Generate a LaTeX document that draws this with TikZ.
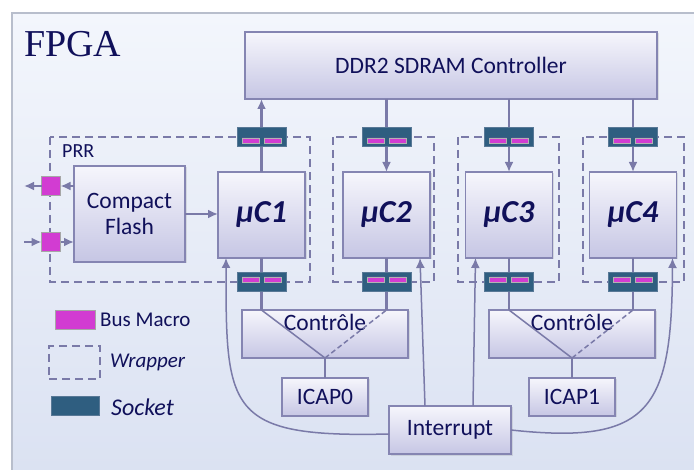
\documentclass[tikz,border=0pt]{standalone}
\usepackage{fontspec}
\setmainfont{Carlito}
\newfontfamily\serifface{Liberation Serif}
\usetikzlibrary{arrows.meta,shadows}

\definecolor{navy}{HTML}{10105A}
\definecolor{bgtop}{HTML}{F3F6FC}
\definecolor{bgbot}{HTML}{DBE2F2}
\definecolor{framec}{HTML}{B8BECC}
\definecolor{boxtop}{HTML}{F6F6FC}
\definecolor{boxbot}{HTML}{C6C6E4}
\definecolor{boxline}{HTML}{8585B2}
\definecolor{wirec}{HTML}{7A7AA8}
\definecolor{sockfill}{HTML}{2F5E80}
\definecolor{sockline}{HTML}{587896}
\definecolor{busmag}{HTML}{D23CD2}

\begin{document}
\begin{tikzpicture}[x=1pt, y=-1pt, >={Latex[length=10pt,width=9pt]},
    block/.style={draw=boxline, line width=1.3pt, top color=boxtop, bottom color=boxbot,
        drop shadow={opacity=0.2, shadow xshift=1.5pt, shadow yshift=-1.5pt},
        inner sep=0pt, outer sep=0pt, text=navy, font=\fontsize{23.5}{26}\selectfont, align=center},
    uc/.style={block, font=\fontsize{32}{34}\selectfont\bfseries\itshape, minimum width=87pt, minimum height=86pt},
    wrapper/.style={draw=wirec, line width=1.6pt, dash pattern=on 8pt off 5pt},
    wire/.style={draw=wirec, line width=2.4pt},
    thinwire/.style={draw=wirec, line width=1.5pt},
    socket/.style={draw=sockline, line width=1pt, fill=sockfill, minimum width=49pt, minimum height=19pt,
        inner sep=0pt, outer sep=0pt},
    busbar/.style={fill=busmag, draw=gray!60, line width=0.4pt},
    bmacro/.style={fill=busmag, draw=gray!70, line width=0.8pt, minimum size=19pt, inner sep=0pt, outer sep=0pt},
    lbl/.style={text=navy, inner sep=0pt}
]
    \useasboundingbox (0,0) rectangle (694,470);

    % FPGA background
    \fill[top color=bgtop, bottom color=bgbot] (12,13) rectangle (694,470);
    \draw[framec, line width=1.2pt] (12,470) -- (12,13) -- (694,13);
    \node[lbl, anchor=base west, font=\serifface\fontsize{38}{40}\selectfont] (fpga) at (24,57) {FPGA};

    % Wrappers
    \draw[wrapper] (50,137) rectangle (310,282);
    \node[lbl, anchor=base west, font=\fontsize{20}{22}\selectfont] (prr) at (62,158) {PRR};
    \draw[wrapper] (333,137) rectangle (434,282);
    \draw[wrapper] (458,137) rectangle (559,282);
    \draw[wrapper] (583,137) rectangle (684,282);

    % Blocks
    \node[block, minimum width=412pt, minimum height=67pt] (ddr) at (451,65.5) {DDR2 SDRAM Controller};
    \node[uc] (mc1) at (261.5,215) {µC1};
    \node[uc] (mc2) at (386.5,215) {µC2};
    \node[uc] (mc3) at (509,215) {µC3};
    \node[uc] (mc4) at (633,215) {µC4};
    \node[block, minimum width=111pt, minimum height=96pt] (cf) at (129.5,214) {Compact\\Flash};
    \node[block, minimum width=166pt, minimum height=48pt] (ctrl1) at (325,334) {};
    \node[block, minimum width=166pt, minimum height=48pt] (ctrl2) at (572,334) {};
    \node[lbl, anchor=base, font=\fontsize{23.5}{26}\selectfont] (ctrl1t) at ([yshift=-21pt]ctrl1.north) {Contrôle};
    \node[lbl, anchor=base, font=\fontsize{23.5}{26}\selectfont] (ctrl2t) at ([yshift=-21pt]ctrl2.north) {Contrôle};
    \node[block, minimum width=86pt, minimum height=38pt] (icap0) at (325,397) {ICAP0};
    \node[block, minimum width=86pt, minimum height=38pt] (icap1) at (572,397) {ICAP1};
    \node[block, minimum width=122pt, minimum height=48pt] (intr) at (450,430) {Interrupt};

    % Memory ports
    \draw[wire, ->] (mc1.north) -- (mc1.north |- ddr.south);
    \draw[wire, ->] (mc2.north |- ddr.south) -- (mc2.north);
    \draw[wire, ->] (mc3.north |- ddr.south) -- (mc3.north);
    \draw[wire, ->] (mc4.north |- ddr.south) -- (mc4.north);

    % Control links
    \draw[wire] (mc1.south) -- (mc1.south |- ctrl1.north);
    \draw[wire] (mc2.south) -- (mc2.south |- ctrl1.north);
    \draw[wire] (mc3.south) -- (mc3.south |- ctrl2.north);
    \draw[wire] (mc4.south) -- (mc4.south |- ctrl2.north);
    \draw[thinwire] (mc1.south |- ctrl1.north) -- (ctrl1.south);
    \draw[thinwire, dash pattern=on 5pt off 3pt] (ctrl1.south) -- (mc2.south |- ctrl1.north);
    \draw[thinwire] (mc3.south |- ctrl2.north) -- (ctrl2.south);
    \draw[thinwire, dash pattern=on 5pt off 3pt] (ctrl2.south) -- (mc4.south |- ctrl2.north);
    \draw[wire] (ctrl1.south) -- (icap0.north);
    \draw[wire] (ctrl2.south) -- (icap1.north);

    % Flash link
    \draw[wire, ->] (cf.east) -- (cf.east -| mc1.west);

    % Interrupt lines
    \draw[thinwire, ->] ([xshift=-25pt]intr.north) -- ([xshift=-10pt]mc2.south east);
    \draw[thinwire, ->] ([xshift=23pt]intr.north) -- ([xshift=10pt]mc3.south west);
    \draw[thinwire, ->] ([yshift=-4pt]intr.west) .. controls (226,438) and (226,410) .. ([xshift=8pt]mc1.south west);
    \draw[thinwire, ->] (intr.east) .. controls (650,445) and (672,410) .. ([xshift=-4pt]mc4.south east);

    % Sockets (top)
    \node[socket] (st1) at (261.5,137.5) {};
    \path[busbar] ([shift={(-19.5,0.5)}]st1.center) rectangle ([shift={(-2.5,5.5)}]st1.center)
                  ([shift={(2.5,0.5)}]st1.center) rectangle ([shift={(19.5,5.5)}]st1.center);
    \node[socket] (st2) at (386.5,137.5) {};
    \path[busbar] ([shift={(-19.5,0.5)}]st2.center) rectangle ([shift={(-2.5,5.5)}]st2.center)
                  ([shift={(2.5,0.5)}]st2.center) rectangle ([shift={(19.5,5.5)}]st2.center);
    \node[socket] (st3) at (509,137.5) {};
    \path[busbar] ([shift={(-19.5,0.5)}]st3.center) rectangle ([shift={(-2.5,5.5)}]st3.center)
                  ([shift={(2.5,0.5)}]st3.center) rectangle ([shift={(19.5,5.5)}]st3.center);
    \node[socket] (st4) at (633,137.5) {};
    \path[busbar] ([shift={(-19.5,0.5)}]st4.center) rectangle ([shift={(-2.5,5.5)}]st4.center)
                  ([shift={(2.5,0.5)}]st4.center) rectangle ([shift={(19.5,5.5)}]st4.center);

    % Sockets (bottom)
    \node[socket] (sb1) at (261.5,282) {};
    \path[busbar] ([shift={(-19.5,-5)}]sb1.center) rectangle ([shift={(-2.5,0)}]sb1.center)
                  ([shift={(2.5,-5)}]sb1.center) rectangle ([shift={(19.5,0)}]sb1.center);
    \node[socket] (sb2) at (386.5,282) {};
    \path[busbar] ([shift={(-19.5,-5)}]sb2.center) rectangle ([shift={(-2.5,0)}]sb2.center)
                  ([shift={(2.5,-5)}]sb2.center) rectangle ([shift={(19.5,0)}]sb2.center);
    \node[socket] (sb3) at (509,282) {};
    \path[busbar] ([shift={(-19.5,-5)}]sb3.center) rectangle ([shift={(-2.5,0)}]sb3.center)
                  ([shift={(2.5,-5)}]sb3.center) rectangle ([shift={(19.5,0)}]sb3.center);
    \node[socket] (sb4) at (633,282) {};
    \path[busbar] ([shift={(-19.5,-5)}]sb4.center) rectangle ([shift={(-2.5,0)}]sb4.center)
                  ([shift={(2.5,-5)}]sb4.center) rectangle ([shift={(19.5,0)}]sb4.center);

    % PRR bus macros
    \node[bmacro] (bm1) at (51,186) {};
    \node[bmacro] (bm2) at (51,242) {};
    \coordinate (out1) at (24,186);
    \coordinate (in2) at (24,242);
    \draw[wire, ->] (bm1.west) -- (out1);
    \draw[wire, ->] (cf.west |- bm1) -- (bm1.east);
    \draw[wire, ->] (in2) -- (bm2.west);
    \draw[wire, ->] (bm2.east) -- (cf.west |- bm2);

    % Legend
    \node[bmacro, minimum width=40pt, minimum height=19pt] (lgbus) at (75,319.5) {};
    \node[lbl, anchor=west, font=\fontsize{21}{24}\selectfont] (lgbustxt) at (100,320) {Bus Macro};
    \node[wrapper, minimum width=51pt, minimum height=33pt, inner sep=0pt] (lgwrap) at (74.5,362.5) {};
    \node[lbl, anchor=west, font=\fontsize{21}{24}\selectfont\itshape] (lgwraptxt) at (110,362) {Wrapper};
    \node[socket, minimum width=48pt] (lgsock) at (75,406.5) {};
    \node[lbl, anchor=west, font=\fontsize{24}{26}\selectfont\itshape] (lgsocktxt) at (111,407) {Socket};
\end{tikzpicture}
\end{document}
